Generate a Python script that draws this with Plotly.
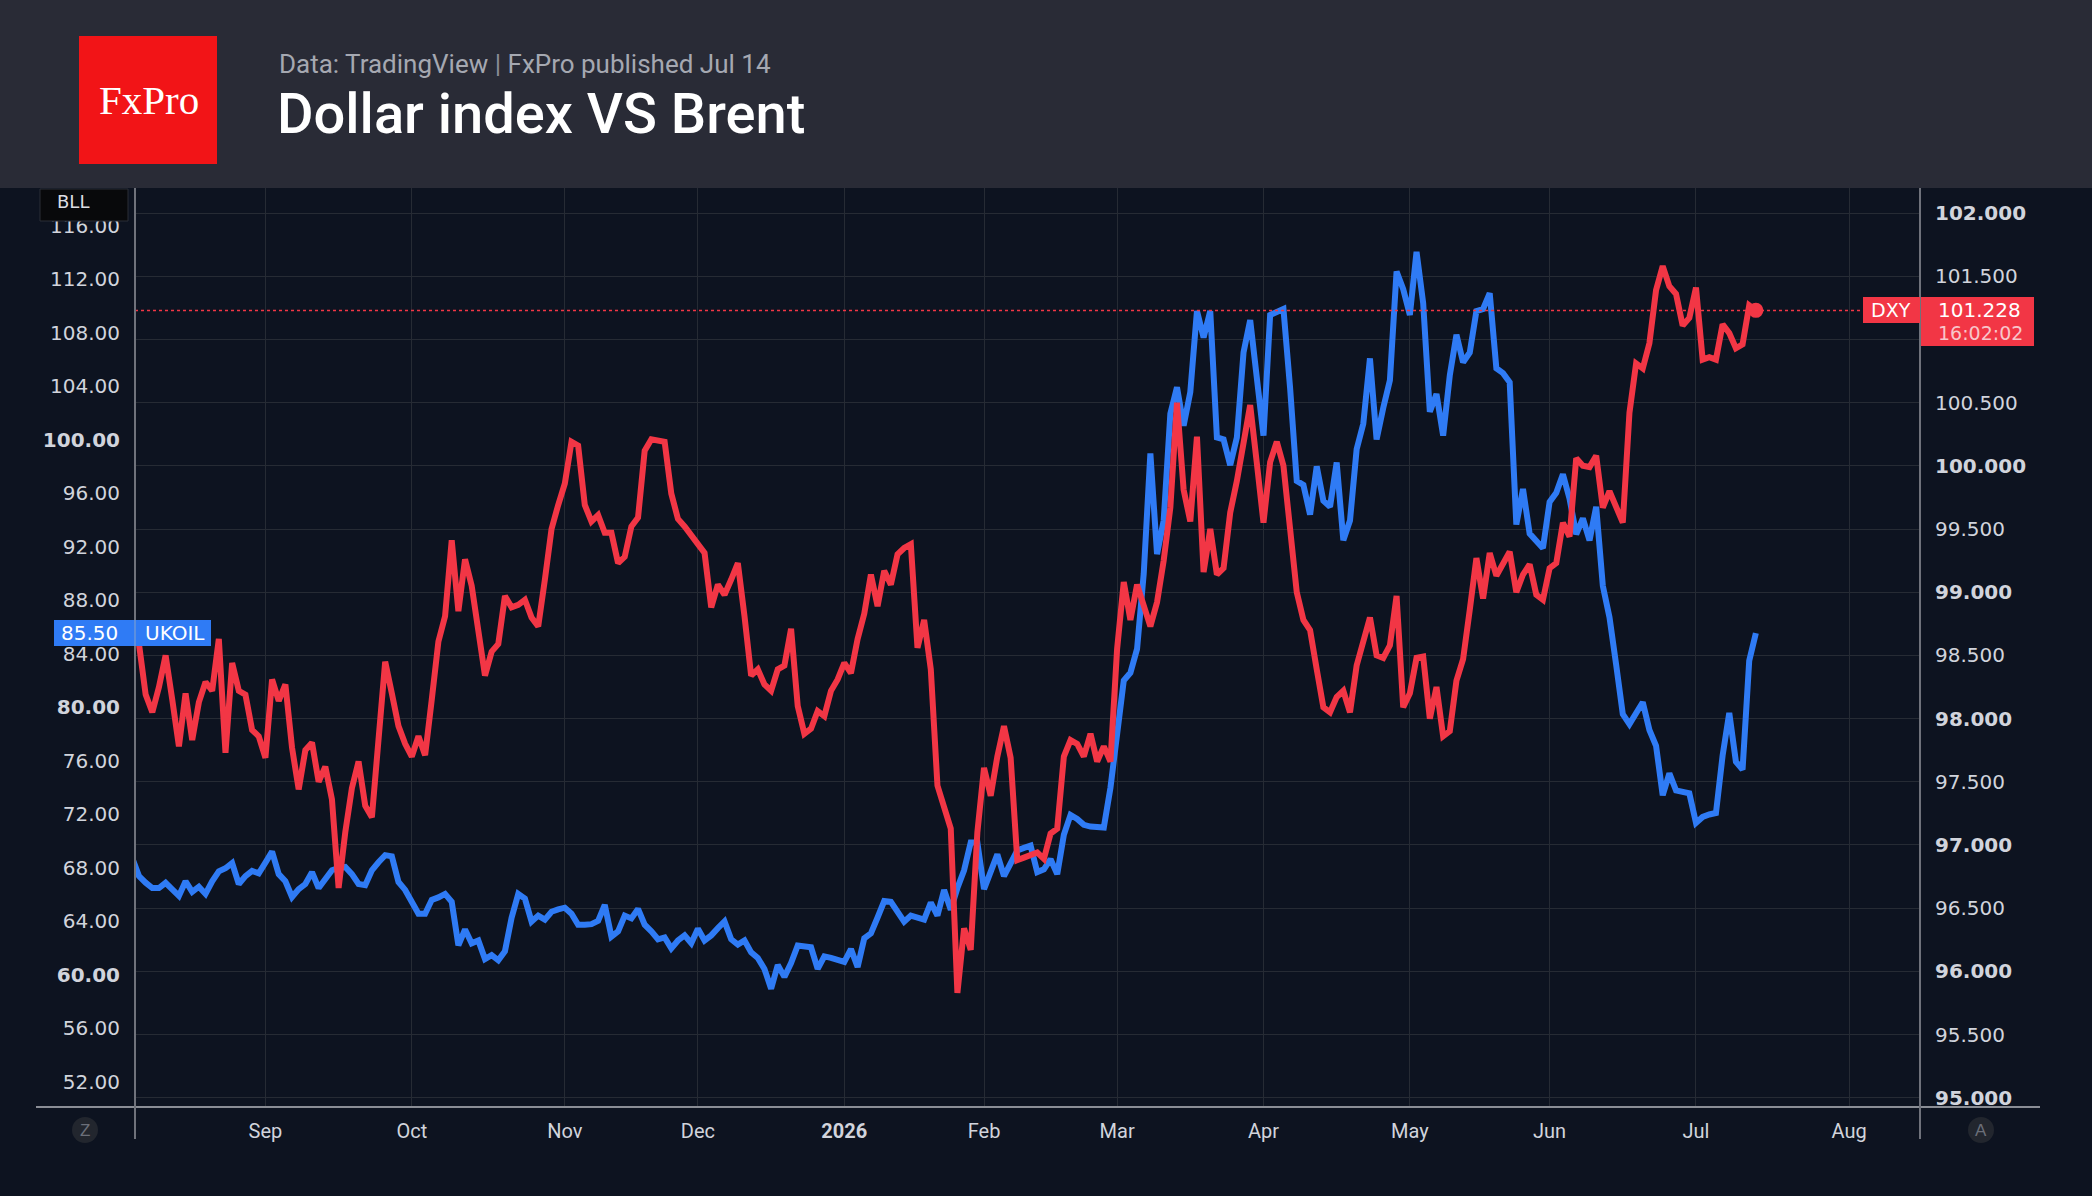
import pandas as pd
import plotly.graph_objects as go

# ---------------- data ----------------
holidays = ["2025-12-25", "2026-01-01"]
trading_days = pd.bdate_range("2025-08-04", "2026-07-14").drop(pd.to_datetime(holidays))  # 245 bars

ukoil = [
    68.72, 67.39, 66.9, 66.5, 66.5, 66.89, 66.4, 65.91, 67.01, 66.21,
    66.6, 66.06, 67.0, 67.75, 67.98, 68.37, 66.8, 67.39, 67.78, 67.6,
    68.4, 69.22, 67.54, 67.01, 65.83, 66.42, 66.8, 67.69, 66.5, 67.1,
    67.83, 68.0, 68.07, 67.54, 66.8, 66.71, 67.83, 68.43, 68.96, 68.87,
    66.95, 66.36, 65.5, 64.58, 64.58, 65.62, 65.8, 66.06, 65.47, 62.22,
    63.4, 62.37, 62.58, 61.19, 61.48, 61.1, 61.78, 64.29, 66.06, 65.71,
    64.0, 64.44, 64.14, 64.73, 64.9, 65.03, 64.58, 63.76, 63.76, 63.8,
    64.05, 65.24, 62.87, 63.26, 64.44, 64.23, 64.94, 63.76, 63.26, 62.67,
    62.81, 61.99, 62.58, 62.96, 62.37, 63.46, 62.58, 62.96, 63.5, 64.0,
    62.67, 62.28, 62.58, 61.69, 61.28, 60.45, 58.97, 60.75, 59.86, 60.89,
    62.2, 62.1, 62.07, 60.45, 61.39, 61.28, 61.1, 60.98, 61.93,
    60.6, 62.75, 63.11, 64.3, 65.53, 65.47, 64.7, 63.99, 64.44,
    64.3, 64.14, 65.41, 64.44, 66.36, 64.88, 66.5, 67.83, 69.9, 69.9,
    66.42, 67.83, 69.02, 67.39, 68.43, 69.31, 69.5, 69.67, 67.69, 67.9,
    68.66, 67.54, 70.49, 71.97, 71.67, 71.23, 71.1, 71.08, 71.03, 74.0,
    78.0, 82.01, 82.6, 84.38, 89.99, 99.0, 91.47, 93.98, 101.96, 103.94,
    101.07, 103.58, 109.64, 107.66, 109.64, 100.19, 100.04, 98.12, 100.19, 106.54,
    108.96, 105.06, 100.33, 109.35, 109.6, 109.79, 103.88, 96.94, 96.64, 94.42,
    98.03, 95.46, 95.01, 98.32, 92.5, 93.98, 99.3, 101.22, 106.1, 100.04,
    102.4, 104.47, 112.6, 111.27, 109.35, 114.07, 110.23, 102.11, 103.44, 100.33,
    104.83, 107.87, 105.8, 106.54, 109.64, 109.79, 110.97, 105.36, 105.0, 104.32,
    93.68, 96.34, 93.0, 92.5, 91.91, 95.37, 96.05, 97.44, 95.6, 92.95,
    94.13, 92.5, 95.01, 89.1, 86.74, 83.2, 79.5, 78.76, 79.6, 80.39,
    78.32, 77.14, 73.44, 75.07, 73.8, 73.7, 73.59, 71.37, 71.82, 72.0,
    72.11, 76.4, 79.59, 75.95, 75.36, 83.49, 85.56,
]

dxy = [
    98.65, 98.59, 98.19, 98.05, 98.25, 98.5, 98.15, 97.78, 98.2, 97.83,
    98.13, 98.29, 98.22, 98.63, 97.73, 98.44, 98.22, 98.19, 97.91, 97.86,
    97.69, 98.31, 98.14, 98.27, 97.77, 97.44, 97.75, 97.81, 97.5, 97.62,
    97.36, 96.66, 97.1, 97.45, 97.66, 97.31, 97.22, 97.8, 98.45, 98.2,
    97.94, 97.8, 97.7, 97.86, 97.71, 98.15, 98.61, 98.81, 99.41, 98.85,
    99.26, 99.05, 98.7, 98.34, 98.53, 98.59, 98.97, 98.88, 98.9, 98.94,
    98.8, 98.73, 99.1, 99.5, 99.69, 99.86, 100.19, 100.16, 99.69, 99.56,
    99.61, 99.47, 99.47, 99.23, 99.28, 99.52, 99.59, 100.12, 100.21, 100.2,
    100.19, 99.78, 99.58, 99.52, 99.44, 99.38, 99.31, 98.88, 99.06, 98.98,
    99.1, 99.23, 98.81, 98.34, 98.39, 98.27, 98.22, 98.39, 98.42, 98.71,
    98.1, 97.88, 97.92, 98.06, 98.02, 98.22, 98.31, 98.44, 98.36,
    98.63, 98.83, 99.14, 98.89, 99.17, 99.06, 99.3, 99.35, 99.38,
    98.56, 98.78, 98.39, 97.47, 97.3, 97.13, 95.83, 96.34, 96.17, 97.1,
    97.61, 97.39, 97.7, 97.94, 97.69, 96.88, 96.9, 96.92, 96.94, 96.89,
    97.09, 97.13, 97.7, 97.83, 97.8, 97.7, 97.88, 97.66, 97.78, 97.66,
    98.55, 99.08, 98.78, 99.06, 98.9, 98.73, 98.92, 99.25, 99.67, 100.5,
    99.81, 99.56, 100.23, 99.16, 99.5, 99.14, 99.19, 99.63, 99.88, 100.17,
    100.48, 100.02, 99.55, 100.03, 100.19, 100.0, 99.55, 99.0, 98.78, 98.7,
    98.39, 98.09, 98.05, 98.17, 98.22, 98.05, 98.42, 98.63, 98.8, 98.5,
    98.48, 98.58, 98.97, 98.09, 98.2, 98.48, 98.49, 98.0, 98.25, 97.86,
    97.9, 98.3, 98.47, 98.86, 99.27, 98.95, 99.31, 99.13, 99.22, 99.32,
    99.0, 99.14, 99.22, 98.98, 98.94, 99.19, 99.23, 99.55, 99.44, 100.06,
    100.0, 99.99, 100.08, 99.67, 99.8, 99.66, 99.55, 100.42, 100.81, 100.77,
    100.97, 101.39, 101.58, 101.42, 101.36, 101.11, 101.17, 101.41, 100.84, 100.86,
    100.84, 101.12, 101.05, 100.93, 100.96, 101.27, 101.23,
]

month_ticks = ["2025-09-01", "2025-10-01", "2025-11-03", "2025-12-01", "2026-01-02",
               "2026-02-02", "2026-03-02", "2026-04-01", "2026-05-01", "2026-06-01",
               "2026-07-01", "2026-08-03"]
month_labels = ["Sep", "Oct", "Nov", "Dec", "<b>2026</b>", "Feb", "Mar", "Apr",
                "May", "Jun", "Jul", "Aug"]

oil_ticks = list(range(52, 117, 4))
oil_labels = [f"<b>{v:.2f}</b>" if v in (60, 80, 100) else f"{v:.2f}" for v in oil_ticks]
dxy_ticks = [95 + 0.5 * i for i in range(15)]
dxy_labels = []
for v in dxy_ticks:
    if abs(v - 101.0) < 1e-9:
        dxy_labels.append("")
    elif float(v).is_integer():
        dxy_labels.append(f"<b>{v:.3f}</b>")
    else:
        dxy_labels.append(f"{v:.3f}")

oil_last_label = "85.50"
dxy_last_label = "101.228"
dxy_time_label = "16:02:02"
dxy_last_level = 101.228

# ---------------- styling / geometry ----------------
W, H = 2092, 1196
L, R, T, B = 135, 1920, 188, 1107
BG = "#0d1320"
HEADER = "#292b36"
GRID = "#262b34"
RED = "#f23645"
BLUE = "#2f7bf5"
AXIS = "#6f727b"
TICKC = "#d1d4dc"
NUMFONT = "DejaVu Sans"


def px(x):
    return (x - L) / (R - L)


def py(y):
    return (B - y) / (B - T)


fig = go.Figure()

fig.add_trace(go.Scatter(
    x=trading_days, y=ukoil, mode="lines", name="UKOIL",
    line=dict(color=BLUE, width=6), yaxis="y", hoverinfo="skip",
))
fig.add_trace(go.Scatter(
    x=trading_days, y=dxy, mode="lines", name="DXY",
    line=dict(color=RED, width=6), yaxis="y2", hoverinfo="skip",
))
fig.add_trace(go.Scatter(
    x=[trading_days[-1]], y=[dxy[-1]], mode="markers",
    marker=dict(color=RED, size=15), yaxis="y2", hoverinfo="skip",
))

shapes = []
# header band
shapes.append(dict(type="rect", xref="paper", yref="paper",
                   x0=px(0), x1=px(W), y0=py(188), y1=py(0),
                   fillcolor=HEADER, line=dict(width=0), layer="above"))
# logo
shapes.append(dict(type="rect", xref="paper", yref="paper",
                   x0=px(79), x1=px(217), y0=py(164), y1=py(36),
                   fillcolor="#f21417", line=dict(width=0), layer="above"))
# dotted last-price line
shapes.append(dict(type="line", xref="paper", yref="y2",
                   x0=0, x1=1, y0=dxy_last_level, y1=dxy_last_level,
                   line=dict(color=RED, width=1.5, dash="dot"), layer="above"))
# axis lines
shapes.append(dict(type="line", xref="paper", yref="paper",
                   x0=px(36), x1=px(2040), y0=py(1107), y1=py(1107),
                   line=dict(color="#8a8d95", width=2), layer="above"))
shapes.append(dict(type="line", xref="paper", yref="paper",
                   x0=px(135), x1=px(135), y0=py(1139), y1=py(188),
                   line=dict(color=AXIS, width=2), layer="above"))
shapes.append(dict(type="line", xref="paper", yref="paper",
                   x0=px(1920), x1=px(1920), y0=py(1139), y1=py(188),
                   line=dict(color=AXIS, width=2), layer="above"))
# BLL box
shapes.append(dict(type="rect", xref="paper", yref="paper",
                   x0=px(40), x1=px(128), y0=py(221), y1=py(189),
                   fillcolor="#08090b", line=dict(color="#2b2e36", width=1), layer="above"))
# UKOIL label box
shapes.append(dict(type="rect", xref="paper", yref="paper",
                   x0=px(54), x1=px(211), y0=py(646), y1=py(620),
                   fillcolor=BLUE, line=dict(width=0), layer="above"))
shapes.append(dict(type="line", xref="paper", yref="paper",
                   x0=px(135), x1=px(135), y0=py(646), y1=py(620),
                   line=dict(color="#5b8fe0", width=2), layer="above"))
# DXY label boxes
shapes.append(dict(type="rect", xref="paper", yref="paper",
                   x0=px(1863), x1=px(1920), y0=py(323), y1=py(297),
                   fillcolor=RED, line=dict(width=0), layer="above"))
shapes.append(dict(type="rect", xref="paper", yref="paper",
                   x0=px(1921), x1=px(2034), y0=py(346), y1=py(297),
                   fillcolor=RED, line=dict(width=0), layer="above"))
# Z / A buttons
for cx in (85, 1981):
    shapes.append(dict(type="circle", xref="paper", yref="paper",
                       x0=px(cx - 13), x1=px(cx + 13), y0=py(1143), y1=py(1117),
                       fillcolor="#22262e", line=dict(width=0), layer="above"))

annotations = [
    dict(text="FxPro", x=px(149), y=py(100), xref="paper", yref="paper",
         xanchor="center", yanchor="middle", showarrow=False,
         font=dict(family="Liberation Serif", size=41, color="white")),
    dict(text="Data: TradingView <span style='color:#8a8d96'>|</span> FxPro published Jul 14",
         x=px(277), y=py(64), xref="paper", yref="paper",
         xanchor="left", yanchor="middle", showarrow=False,
         font=dict(family="Roboto", size=26, color="#a5a8b1")),
    dict(text="Dollar index VS Brent", x=px(275), y=py(114), xref="paper", yref="paper",
         xanchor="left", yanchor="middle", showarrow=False,
         font=dict(family="Roboto", size=56, color="white", weight=500)),
    dict(text="BLL", x=px(55), y=py(202), xref="paper", yref="paper",
         xanchor="left", yanchor="middle", showarrow=False,
         font=dict(family=NUMFONT, size=18, color="#dcdde2")),
    dict(text=oil_last_label, x=px(120), y=py(633), xref="paper", yref="paper",
         xanchor="right", yanchor="middle", showarrow=False,
         font=dict(family=NUMFONT, size=20, color="white")),
    dict(text="UKOIL", x=px(143), y=py(633), xref="paper", yref="paper",
         xanchor="left", yanchor="middle", showarrow=False,
         font=dict(family=NUMFONT, size=20, color="white")),
    dict(text="DXY", x=px(1891), y=py(310), xref="paper", yref="paper",
         xanchor="center", yanchor="middle", showarrow=False,
         font=dict(family=NUMFONT, size=19, color="white")),
    dict(text=dxy_last_label, x=px(1936), y=py(310), xref="paper", yref="paper",
         xanchor="left", yanchor="middle", showarrow=False,
         font=dict(family=NUMFONT, size=20, color="white")),
    dict(text=dxy_time_label, x=px(1936), y=py(333), xref="paper", yref="paper",
         xanchor="left", yanchor="middle", showarrow=False,
         font=dict(family=NUMFONT, size=19, color="#f8c5ca")),
    dict(text="Z", x=px(85), y=py(1130), xref="paper", yref="paper",
         xanchor="center", yanchor="middle", showarrow=False,
         font=dict(family="Liberation Sans", size=17, color="#6b6f79")),
    dict(text="A", x=px(1981), y=py(1130), xref="paper", yref="paper",
         xanchor="center", yanchor="middle", showarrow=False,
         font=dict(family="Liberation Sans", size=17, color="#6b6f79")),
]

fig.update_layout(
    width=W, height=H, autosize=False,
    margin=dict(l=L, r=W - R, t=T, b=H - B, pad=0),
    paper_bgcolor=BG, plot_bgcolor=BG,
    showlegend=False,
    shapes=shapes,
    annotations=annotations,
    xaxis=dict(
        type="date",
        range=["2025-08-04 09:36", "2026-08-17 16:00"],
        rangebreaks=[dict(bounds=["sat", "mon"]), dict(values=holidays)],
        tickmode="array", tickvals=month_ticks, ticktext=month_labels,
        showgrid=True, gridcolor=GRID, gridwidth=1,
        showline=False, zeroline=False, ticks="",
        ticklabelstandoff=10,
        tickfont=dict(family="Roboto", size=20, color=TICKC),
    ),
    yaxis=dict(
        range=[50.13, 118.84],
        tickmode="array", tickvals=oil_ticks, ticktext=oil_labels,
        showgrid=False, zeroline=False, showline=False, ticks="",
        side="left", ticklabelstandoff=14,
        tickfont=dict(family=NUMFONT, size=20, color=TICKC),
    ),
    yaxis2=dict(
        range=[94.927, 102.198],
        overlaying="y", side="right",
        tickmode="array", tickvals=dxy_ticks, ticktext=dxy_labels,
        showgrid=True, gridcolor=GRID, gridwidth=1,
        zeroline=False, showline=False, ticks="",
        ticklabelstandoff=14,
        tickfont=dict(family=NUMFONT, size=20, color=TICKC),
    ),
)

fig.write_html("out.html", include_plotlyjs=True, config={"displayModeBar": False})
